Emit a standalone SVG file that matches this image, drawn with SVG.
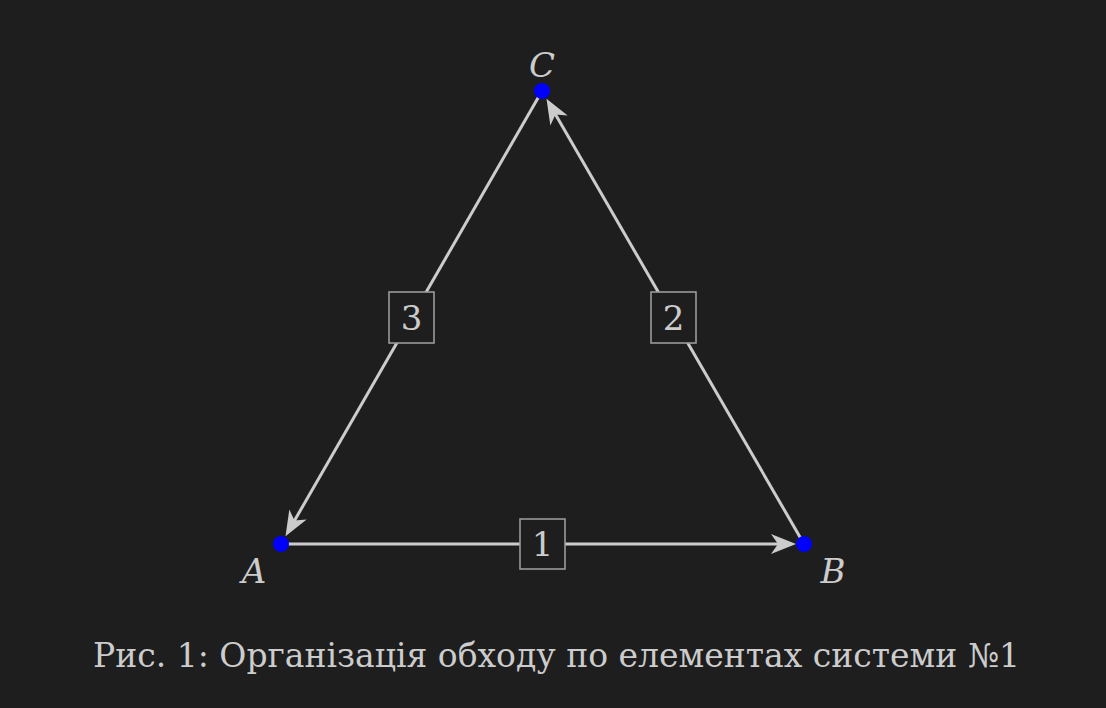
<svg xmlns="http://www.w3.org/2000/svg" width="1106" height="708" viewBox="0 0 1106 708">
<style>
.edge{stroke:#cccccc;stroke-width:3;fill:none;marker-end:url(#arr)}
.box{fill:#1e1e1e;stroke:#9a9a9a;stroke-width:1.6}
.num{font-family:"DejaVu Serif","Liberation Serif",serif;font-size:34px;fill:#cccccc;text-anchor:middle}
.lbl{font-family:"DejaVu Serif","Liberation Serif",serif;font-style:italic;font-size:34px;fill:#cccccc;text-anchor:middle}
.cap{font-family:"DejaVu Serif","Liberation Serif",serif;font-size:33px;fill:#cccccc;text-anchor:middle}
.dot{fill:#0000ff}
</style>
<defs>
<marker id="arr" markerUnits="userSpaceOnUse" orient="auto" refX="0" refY="0" markerWidth="30" markerHeight="30" overflow="visible">
<path d="M12,0 L-13,-10 L-6,0 L-13,10 Z" fill="#cccccc"/>
</marker>
</defs>
<rect width="1106" height="708" fill="#1e1e1e"/>
<g id="connectors">
<line class="edge" x1="281" y1="544" x2="784" y2="544"/>
<line class="edge" x1="804" y1="544" x2="552.5" y2="109.2"/>
<line class="edge" x1="542" y1="91" x2="291.5" y2="525.8"/>
</g>
<g id="edge-label-1"><rect class="box" x="520" y="519" width="45" height="50"/><text class="num" x="542.5" y="556">1</text></g>
<g id="edge-label-2"><rect class="box" x="651" y="292" width="45" height="51"/><text class="num" x="673.5" y="330">2</text></g>
<g id="edge-label-3"><rect class="box" x="389" y="292" width="45" height="51"/><text class="num" x="411.5" y="330">3</text></g>
<g id="node-A"><circle class="dot" cx="281" cy="544" r="8"/><text class="lbl" x="254" y="583">A</text></g>
<g id="node-B"><circle class="dot" cx="804" cy="544" r="8"/><text class="lbl" x="833" y="583">B</text></g>
<g id="node-C"><circle class="dot" cx="542" cy="91" r="8"/><text class="lbl" x="542" y="77">C</text></g>
<text class="cap" x="556.5" y="667">Рис. 1: Організація обходу по елементах системи №1</text>
</svg>
